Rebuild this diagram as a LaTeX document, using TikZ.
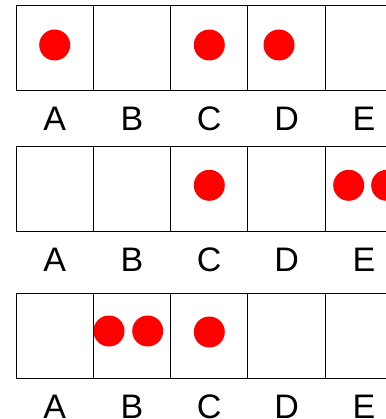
\documentclass[tikz,border=0pt]{standalone}
\usepackage{fontspec}
\setmainfont{Liberation Sans}
\usetikzlibrary{positioning}

\begin{document}
\begin{tikzpicture}[
  x=1pt,y=-1pt,
  cell/.style={draw,line width=1pt,minimum width=77.3pt,minimum height=85pt,inner sep=0pt,outer sep=0pt},
  dot/.style={circle,fill=red,minimum size=31pt,inner sep=0pt},
  lbl/.style={font=\fontsize{34}{40}\selectfont,inner sep=0pt,text height=24.5pt,text depth=0pt},
]
\useasboundingbox (0,0) rectangle (385,419);
% ----- three rows of cells A..E
\foreach \row/\top in {1/5.7,2/146.3,3/293.7}{
  \foreach \col [count=\i from 0] in {A,B,C,D,E}{
    \node[cell,anchor=north west] (c\row\col) at ({16+77.3*\i},\top) {};
    \node[lbl,below=15pt of c\row\col] (l\row\col) {\col};
  }
}
% ----- row 1
\node[dot] (d1a) at (54.7,45) {};
\node[dot] (d1c) at (209.3,45) {};
\node[dot] (d1d) at (279,45) {};
% ----- row 2
\node[dot] (d2c) at (209.3,185.3) {};
\node[dot] (d2e) at (348.7,185.3) {};
\node[dot] (d2f) at (386.7,185.3) {};
% ----- row 3
\node[dot] (d3a) at (109,331) {};
\node[dot] (d3b) at (147.7,331) {};
\node[dot] (d3c) at (209.3,332) {};
\end{tikzpicture}
\end{document}
